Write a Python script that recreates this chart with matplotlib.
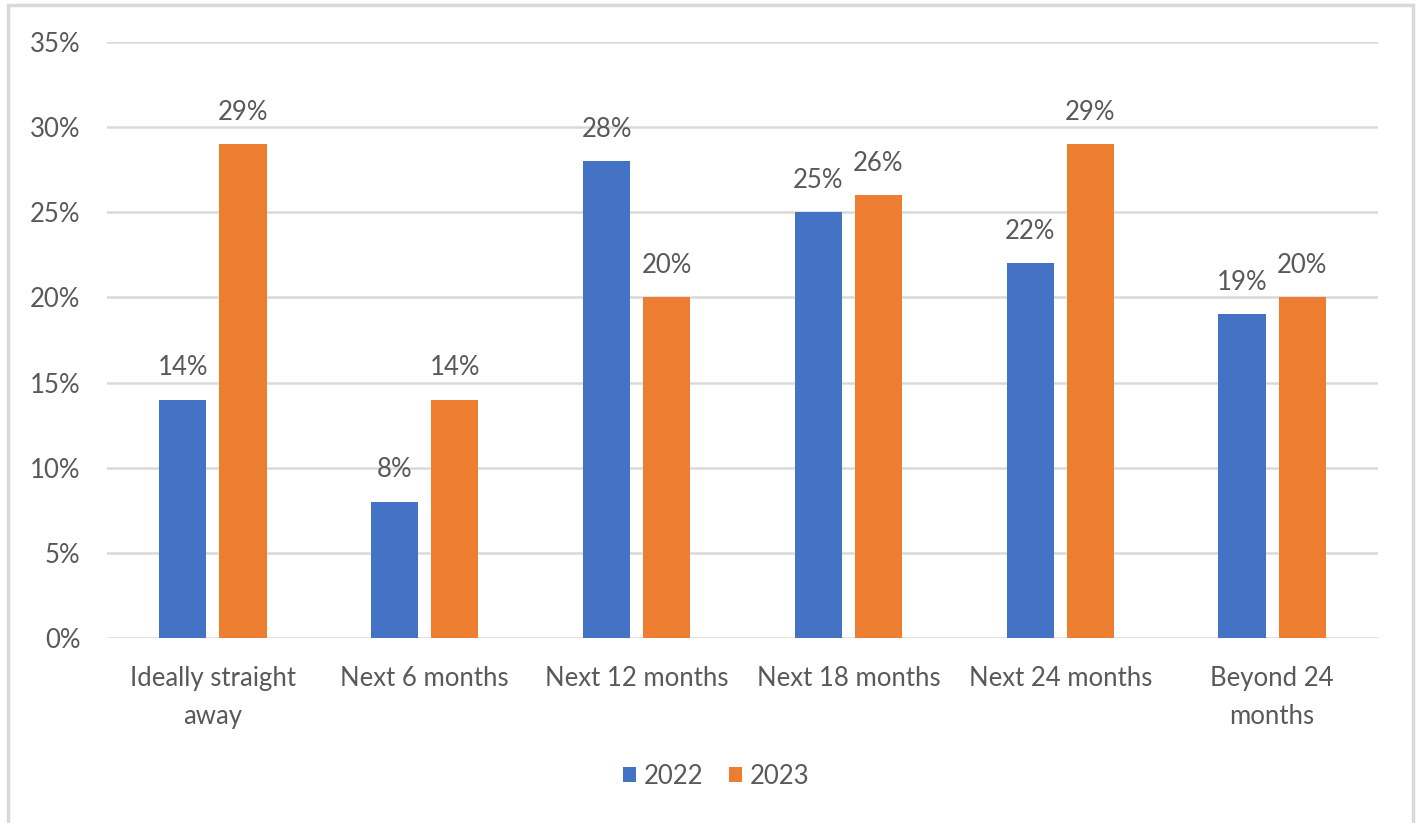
import matplotlib
matplotlib.use("Agg")
import matplotlib.pyplot as plt
import matplotlib.patches as mpatches
import numpy as np

categories = ["Ideally straight\naway", "Next 6 months", "Next 12 months",
              "Next 18 months", "Next 24 months", "Beyond 24\nmonths"]
series_names = ["2022", "2023"]
values_2022 = [14, 8, 28, 25, 22, 19]
values_2023 = [29, 14, 20, 26, 29, 20]
yticks = [0, 5, 10, 15, 20, 25, 30, 35]
colors = ["#4472C4", "#ED7D31"]

plt.rcParams['font.family'] = ['Lato', 'DejaVu Sans']
txt = "#595959"
fs = 18.5

fig = plt.figure(figsize=(14.18, 8.23), dpi=100)
fig.patch.set_facecolor("white")
ax = fig.add_axes([107/1418, 1-638/823, (1378-107)/1418, (638-42)/823])

x = np.arange(len(categories))
w = 0.222
off = 0.142
b1 = ax.bar(x - off, values_2022, w, color=colors[0], label=series_names[0], zorder=3)
b2 = ax.bar(x + off, values_2023, w, color=colors[1], label=series_names[1], zorder=3)

for bars, vals in ((b1, values_2022), (b2, values_2023)):
    for r, v in zip(bars, vals):
        ax.annotate(f"{v}%", (r.get_x() + r.get_width()/2, v), xytext=(0, 23),
                    textcoords="offset points", ha="center", va="center",
                    fontsize=fs, color=txt)

ax.set_xlim(-0.5, len(categories) - 0.5)
ax.set_ylim(0, 35)
ax.set_yticks(yticks)
ax.set_yticklabels([f"{t}%" for t in yticks])
ax.set_xticks(x)
ax.set_xticklabels(categories, linespacing=1.65)
ax.tick_params(axis="y", length=0, pad=19, labelsize=fs, labelcolor=txt)
ax.tick_params(axis="x", length=0, pad=20, labelsize=fs, labelcolor=txt)
ax.grid(axis="y", color="#d9d9d9", linewidth=1.8, zorder=0)
for s in ax.spines.values():
    s.set_visible(False)

fig.legend(handles=[b1, b2], labels=series_names, loc="center",
           bbox_to_anchor=(716/1418, 1-776/823), ncol=2, frameon=False,
           fontsize=fs, labelcolor=txt, handlelength=0.5, handleheight=0.5,
           handletextpad=0.3, columnspacing=1.0)

border = mpatches.Rectangle((8/1418, -0.05), (1413-8)/1418, 1.05 - 5/823,
                            transform=fig.transFigure, fill=False,
                            edgecolor="#d9d9d9", linewidth=2.5)
fig.patches.append(border)

fig.savefig("out.png", dpi=100)
